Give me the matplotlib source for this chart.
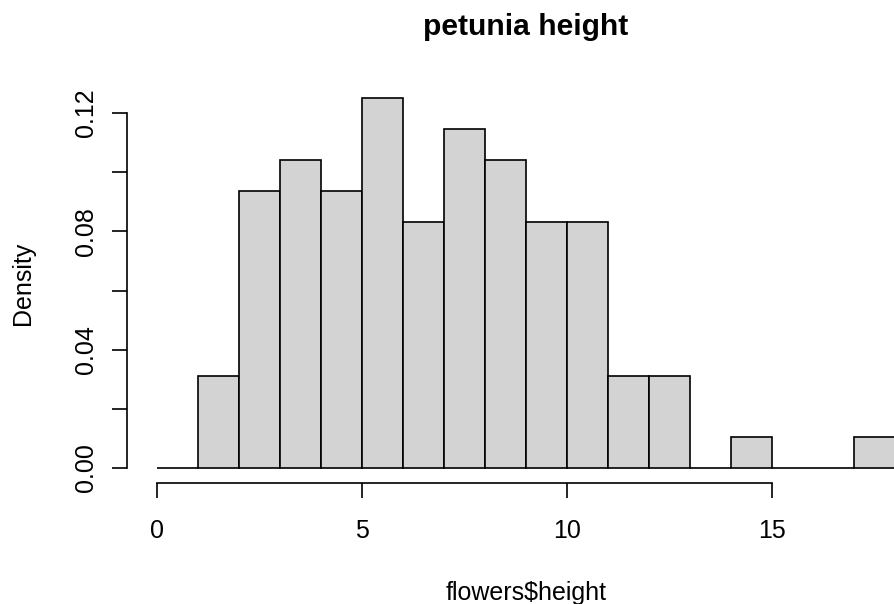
import matplotlib
matplotlib.use("Agg")
import matplotlib.pyplot as plt
import numpy as np

# data: histogram of flowers$height (n = 96), bin breaks 0..18 step 1
bin_edges = list(range(0, 19))
counts = [0, 3, 9, 10, 9, 12, 8, 11, 10, 8, 8, 3, 3, 0, 1, 0, 0, 1]
n_total = 96
x_ticks = [0, 5, 10, 15]
x_tick_labels = ["0", "5", "10", "15"]
y_ticks = [0.00, 0.02, 0.04, 0.06, 0.08, 0.10, 0.12]
y_tick_labels = ["0.00", "", "0.04", "", "0.08", "", "0.12"]
title = "petunia height"
xlabel = "flowers$height"
ylabel = "Density"

plt.rcParams['font.family'] = ['Liberation Sans', 'DejaVu Sans']

W, H = 894, 604
fig = plt.figure(figsize=(W / 100, H / 100), dpi=100)

left_px, right_px = 127.5, 924.5
top_px, bot_px = 83.5, 482.8
ax = fig.add_axes([left_px / W, 1 - bot_px / H, (right_px - left_px) / W, (bot_px - top_px) / H])

widths = np.diff(bin_edges)
dens = np.array(counts) / (n_total * widths)
ax.bar(bin_edges[:-1], dens, width=widths, align='edge', color='#D3D3D3',
       edgecolor='black', linewidth=1.2)

xmin, xmax = bin_edges[0], bin_edges[-1]
xr = xmax - xmin
ax.set_xlim(xmin - 0.04 * xr, xmax + 0.04 * xr)
ymax = dens.max()
ax.set_ylim(-0.04 * ymax, ymax * 1.04)

for s in ['top', 'right']:
    ax.spines[s].set_visible(False)
for s in ['left', 'bottom']:
    ax.spines[s].set_linewidth(1.2)
ax.spines['bottom'].set_bounds(x_ticks[0], x_ticks[-1])
ax.spines['left'].set_bounds(y_ticks[0], y_ticks[-1])

ax.set_xticks(x_ticks)
ax.set_xticklabels(x_tick_labels, fontsize=18)
ax.set_yticks(y_ticks)
ax.set_yticklabels(y_tick_labels, fontsize=18, rotation=90, va='center')
ax.tick_params(axis='both', length=10.8, width=1.2, direction='out')
ax.tick_params(axis='x', pad=15)
ax.tick_params(axis='y', pad=10.5)

fig.text((left_px + right_px) / 2 / W, 1 - 27 / H, title, ha='center', va='center',
         fontsize=21.6, fontweight='bold')
fig.text((left_px + right_px) / 2 / W, 1 - 593 / H, xlabel, ha='center', va='center',
         fontsize=18)
fig.text(23 / W, 1 - ((top_px + bot_px) / 2) / H, ylabel, ha='center', va='center',
         fontsize=18, rotation=90)

fig.savefig("out.png", dpi=100)
